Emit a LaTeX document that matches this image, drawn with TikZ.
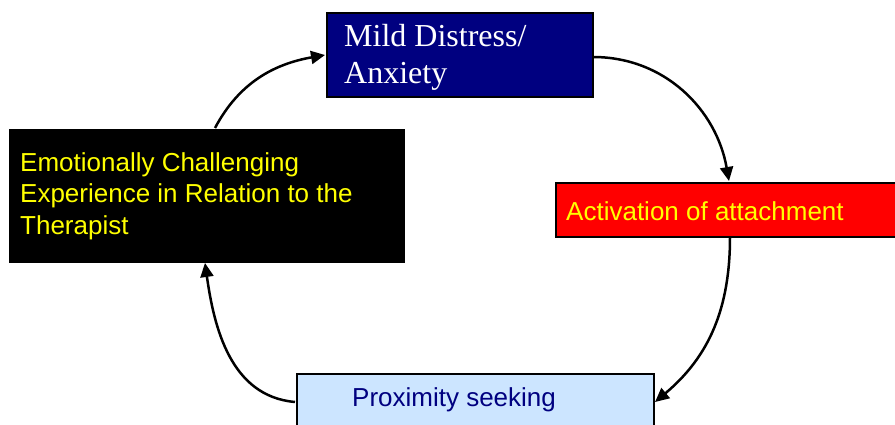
\documentclass[tikz,border=0pt]{standalone}
\usepackage{fontspec}
\setmainfont{Liberation Serif}
\setsansfont{Liberation Sans}
\usetikzlibrary{arrows.meta}
\definecolor{navybox}{RGB}{0,0,128}
\definecolor{redbox}{RGB}{255,0,0}
\definecolor{skybox}{RGB}{204,229,255}
\definecolor{textyellow}{RGB}{255,255,0}
\definecolor{textnavy}{RGB}{0,0,128}
\tikzset{
  stagebox/.style={rectangle, draw=black, line width=2pt, inner sep=0pt, anchor=north west},
  seriflabel/.style={font=\fontsize{32}{37}\selectfont\rmfamily, inner sep=0pt, anchor=base west, align=left},
  sanslabel/.style={font=\fontsize{26}{31.5}\selectfont\sffamily, inner sep=0pt, anchor=base west, align=left},
  cycle arrow/.style={line width=2.5pt, -{Triangle[length=14pt,width=13pt]}}
}
\begin{document}
\begin{tikzpicture}[x=1pt,y=-1pt]
\clip (0,0) rectangle (895,425);
\fill[white] (0,0) rectangle (895,425);

% stage boxes
\node[stagebox, fill=navybox, minimum width=266pt, minimum height=84pt] (mild) at (326,12) {};
\node[stagebox, fill=redbox, minimum width=360pt, minimum height=54pt] (act) at (555,182) {};
\node[stagebox, fill=skybox, minimum width=357pt, minimum height=80pt] (prox) at (296,373) {};
\node[stagebox, draw=none, fill=black, minimum width=396pt, minimum height=134pt] (emo) at (8,128) {};

% labels (base anchor sits on the last line)
\node[seriflabel, text=white] (mildtext) at (344,84) {Mild Distress/\\Anxiety};
\node[sanslabel, text=textyellow] (acttext) at (566,220) {Activation of attachment};
\node[sanslabel, text=textnavy] (proxtext) at (352,406) {Proximity seeking};
\node[sanslabel, text=textyellow] (emotext) at (20,234) {Emotionally Challenging\\Experience in Relation to the\\Therapist};

% connection points on the box edges
\coordinate (emoTop) at (215,128);
\coordinate (mildLeft) at (325,55);
\coordinate (mildRight) at (593,57);
\coordinate (actTop) at (729,181);
\coordinate (actBottom) at (730,237);
\coordinate (proxRight) at (655,402);
\coordinate (proxLeft) at (295,402);
\coordinate (emoBottom) at (205,263);

% the cycle
\draw[cycle arrow] (emoTop) to[out=62, in=190] (mildLeft);
\draw[cycle arrow] (mildRight) to[out=0, in=100] (actTop);
\draw[cycle arrow] (actBottom) to[out=-90, in=40] (proxRight);
\draw[cycle arrow] (proxLeft) to[out=175, in=-82] (emoBottom);
\end{tikzpicture}
\end{document}
